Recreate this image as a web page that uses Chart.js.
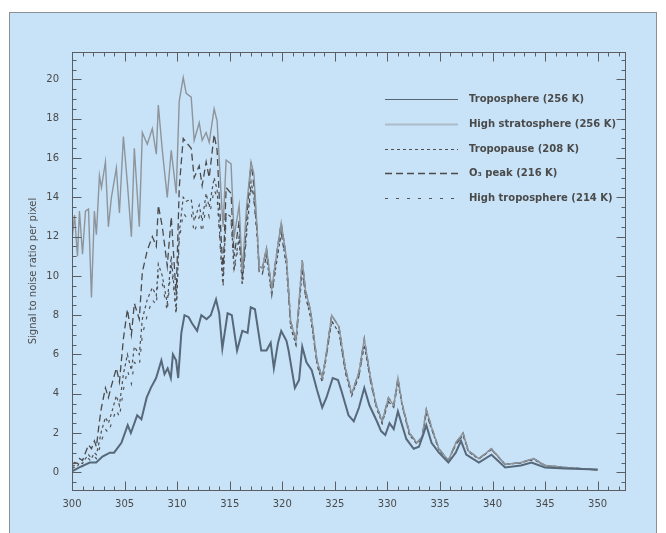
<!DOCTYPE html>
<html>
<head>
<meta charset="utf-8">
<title>Signal to noise ratio per pixel</title>
<script src="https://cdn.jsdelivr.net/npm/chart.js@4.4.1/dist/chart.umd.min.js"></script>
<style>
  html, body { margin: 0; padding: 0; background: #fff; }
  canvas { display: block; }
</style>
</head>
<body>
<canvas id="chart" width="666" height="533"></canvas>
<script>
// wavelength (nm) vs signal to noise ratio per pixel

// troposphere (256 K)
const tropoWl = [300.0, 300.7, 301.7, 302.3, 302.9, 303.6, 304.0, 304.7, 305.3, 305.6,
  306.2, 306.6, 307.1, 307.5, 308.0, 308.5, 308.8, 309.1, 309.4, 309.6,
  309.9, 310.1, 310.4, 310.7, 311.1, 311.4, 311.9, 312.3, 312.8, 313.2,
  313.7, 314.0, 314.3, 314.8, 315.2, 315.7, 316.2, 316.7, 317.0, 317.4,
  318.0, 318.5, 318.9, 319.2, 319.6, 319.9, 320.4, 320.6, 321.2, 321.6,
  321.9, 322.3, 322.8, 323.3, 323.8, 324.2, 324.8, 325.3, 325.6, 326.3,
  326.8, 327.3, 327.8, 328.3, 329.0, 329.4, 329.8, 330.2, 330.6, 331.0,
  331.4, 331.8, 332.5, 333.0, 333.4, 333.7, 334.2, 334.9, 335.8, 336.5,
  337.0, 337.5, 338.7, 339.9, 341.2, 342.7, 343.7, 345.0, 346.9, 350.0];
const tropoSnr = [0.05, 0.25, 0.5, 0.5, 0.8, 1.0, 1.0, 1.5, 2.4, 2.0,
  2.9, 2.7, 3.8, 4.3, 4.8, 5.7, 5.0, 5.3, 4.8, 6.0,
  5.7, 4.8, 7.1, 8.0, 7.9, 7.6, 7.2, 8.0, 7.8, 8.0,
  8.8, 8.1, 6.3, 8.1, 8.0, 6.2, 7.2, 7.1, 8.4, 8.3,
  6.2, 6.2, 6.6, 5.3, 6.6, 7.2, 6.7, 6.2, 4.3, 4.7,
  6.4, 5.6, 5.2, 4.2, 3.3, 3.8, 4.8, 4.7, 4.2, 2.9,
  2.6, 3.3, 4.3, 3.4, 2.6, 2.1, 1.9, 2.5, 2.2, 3.1,
  2.4, 1.7, 1.2, 1.3, 1.9, 2.4, 1.5, 1.0, 0.5, 1.0,
  1.6, 0.9, 0.5, 0.9, 0.25, 0.35, 0.5, 0.25, 0.2, 0.15];

// short wavelength part shared by the four upper curves
const headWl = [300.0, 300.24, 300.52, 300.71, 301.0, 301.28, 301.57, 301.85, 302.13, 302.32,
  302.61, 302.8, 303.18, 303.46, 303.75, 304.22, 304.51, 304.89, 305.27, 305.65,
  305.93, 306.4, 306.69, 307.16, 307.64, 308.02, 308.21, 308.59, 309.06, 309.44,
  309.91, 310.2, 310.58, 310.86, 311.34, 311.62, 312.1, 312.38, 312.76, 313.05,
  313.52, 313.8, 314.18, 314.37, 314.66, 315.13, 315.42, 315.9, 316.2, 316.6,
  317.03, 317.3, 317.6];
const stratHead = [11.8, 13.1, 11.0, 13.3, 11.1, 13.3, 13.4, 8.9, 13.3, 12.1,
  15.1, 14.5, 15.8, 12.5, 14.0, 15.5, 13.2, 17.1, 14.7, 12.0,
  16.5, 12.5, 17.3, 16.7, 17.5, 16.2, 18.7, 16.4, 14.0, 16.4,
  14.2, 18.9, 20.1, 19.3, 19.1, 16.9, 17.8, 16.9, 17.3, 16.8,
  18.5, 17.9, 14.2, 12.5, 15.9, 15.7, 12.0, 13.6, 10.2, 13.5,
  15.8, 15.2, 12.5];
const tropopauseHead = [0.3, 0.35, 0.3, 0.5, 0.45, 0.7, 0.9, 0.7, 1.0, 0.9,
  1.6, 2.1, 2.8, 2.5, 3.0, 3.9, 3.4, 5.0, 6.0, 5.2,
  6.4, 6.0, 7.8, 8.8, 9.4, 9.0, 10.6, 10.0, 8.6, 11.0,
  8.2, 12.2, 14.0, 13.8, 13.9, 12.8, 13.6, 12.8, 14.2, 13.5,
  15.0, 14.4, 11.0, 9.6, 13.2, 13.0, 10.4, 12.0, 9.6, 12.2,
  14.8, 14.0, 12.2];
const o3PeakHead = [0.4, 0.5, 0.45, 0.7, 0.6, 1.0, 1.4, 1.2, 1.6, 1.3,
  2.6, 3.3, 4.3, 3.8, 4.4, 5.3, 4.6, 6.8, 8.3, 7.0,
  8.6, 7.8, 10.2, 11.3, 12.0, 11.5, 13.6, 12.5, 10.5, 13.0,
  9.0, 14.5, 17.0, 16.8, 16.5, 15.0, 15.6, 14.6, 15.8, 15.0,
  17.2, 16.4, 12.0, 10.2, 14.5, 14.2, 11.0, 12.8, 9.9, 12.8,
  15.8, 14.6, 12.4];
const highTropoHead = [0.2, 0.25, 0.2, 0.35, 0.3, 0.5, 0.7, 0.55, 0.8, 0.7,
  1.2, 1.6, 2.2, 2.0, 2.5, 3.2, 2.8, 4.2, 5.2, 4.5,
  5.6, 5.4, 7.0, 8.0, 8.8, 8.5, 10.0, 9.6, 8.2, 10.6,
  8.0, 11.8, 13.2, 13.0, 13.2, 12.2, 13.0, 12.2, 13.6, 13.0,
  14.4, 14.0, 10.8, 9.4, 13.0, 12.8, 10.2, 11.8, 9.5, 12.0,
  14.6, 13.8, 12.0];

// long wavelength part, where the upper curves run together
const tailWl = [317.8, 318.1, 318.5, 319.0, 319.4, 319.9, 320.4, 320.8, 321.3, 321.9,
  322.2, 322.7, 323.3, 323.8, 324.2, 324.7, 325.4, 326.0, 326.6, 327.3,
  327.8, 328.4, 328.9, 329.5, 330.1, 330.6, 331.0, 331.4, 332.1, 332.8,
  333.3, 333.7, 334.2, 334.9, 335.8, 336.5, 337.2, 337.7, 338.7, 339.9,
  341.2, 342.7, 343.9, 345.0, 346.9, 350.0];
const tailUpper = [10.5, 10.4, 11.4, 9.3, 10.9, 12.7, 10.9, 7.7, 6.7, 10.8,
  9.3, 8.2, 5.7, 4.8, 6.1, 8.0, 7.4, 5.3, 4.0, 5.1,
  6.8, 4.8, 3.5, 2.6, 3.8, 3.4, 4.8, 3.5, 2.0, 1.5,
  1.8, 3.2, 2.3, 1.2, 0.6, 1.5, 2.0, 1.1, 0.7, 1.2,
  0.4, 0.5, 0.7, 0.35, 0.25, 0.12];
const tailLower = [10.2, 10.1, 11.0, 9.0, 10.5, 12.2, 10.5, 7.4, 6.5, 10.3,
  9.0, 7.9, 5.5, 4.6, 5.9, 7.7, 7.1, 5.1, 3.9, 4.9,
  6.5, 4.6, 3.4, 2.5, 3.6, 3.3, 4.6, 3.4, 1.9, 1.45,
  1.75, 3.0, 2.2, 1.15, 0.6, 1.4, 1.9, 1.05, 0.68, 1.15,
  0.4, 0.48, 0.66, 0.34, 0.24, 0.12];

const xTickValues = [300, 305, 310, 315, 320, 325, 330, 335, 340, 345, 350];
const yTickValues = [0, 2, 4, 6, 8, 10, 12, 14, 16, 18, 20];

const xMin = 300, xMax = 352.6;
const yMin = -0.9, yMax = 21.4;

function points(wl, snr) {
  return wl.map((w, i) => ({ x: w, y: snr[i] }));
}

const upperWl = headWl.concat(tailWl);

const datasets = [
  {
    label: 'Troposphere (256 K)',
    data: points(tropoWl, tropoSnr),
    borderColor: '#56687a',
    borderWidth: 2,
    legendColor: '#5b6570',
    legendWidth: 1
  },
  {
    label: 'High stratosphere (256 K)',
    data: points(upperWl, stratHead.concat(tailUpper)),
    borderColor: '#8e949b',
    borderWidth: 1.4,
    legendColor: '#adbccb',
    legendWidth: 2
  },
  {
    label: 'Tropopause (208 K)',
    data: points(upperWl, tropopauseHead.concat(tailLower)),
    borderColor: '#4f4f52',
    borderWidth: 1.2,
    borderDash: [3, 3]
  },
  {
    label: 'O\u2083 peak (216 K)',
    data: points(upperWl, o3PeakHead.concat(tailUpper)),
    borderColor: '#4a4a4d',
    borderWidth: 1.3,
    borderDash: [7, 4]
  },
  {
    label: 'High troposphere (214 K)',
    data: points(upperWl, highTropoHead.concat(tailLower)),
    borderColor: '#555558',
    borderWidth: 1.2,
    borderDash: [3, 8]
  }
];

const textColor = '#4a4a4a';
const tickFont = { family: 'DejaVu Sans', size: 10 };

// light blue panel behind the whole figure
const panel = {
  id: 'panel',
  beforeDraw(chart) {
    const ctx = chart.ctx;
    ctx.save();
    ctx.fillStyle = '#ffffff';
    ctx.fillRect(0, 0, chart.width, chart.height);
    ctx.fillStyle = '#c8e3f7';
    ctx.fillRect(9, 12, 648, 530);
    ctx.strokeStyle = '#8b9096';
    ctx.lineWidth = 1;
    ctx.strokeRect(9.5, 12.5, 647, 530);
    ctx.restore();
  }
};

// box round the plot with inward ticks on all four sides
const frame = {
  id: 'frame',
  afterDraw(chart) {
    const { ctx, chartArea: a, scales: { x, y } } = chart;
    const l = Math.round(a.left) + 0.5, r = Math.round(a.right) + 0.5;
    const t = Math.round(a.top) + 0.5, b = Math.round(a.bottom) + 0.5;
    ctx.save();
    ctx.strokeStyle = '#5a5d61';
    ctx.lineWidth = 1;
    ctx.strokeRect(l, t, r - l, b - t);
    ctx.beginPath();
    for (let v = 301; v <= 352; v++) {
      const px = Math.round(x.getPixelForValue(v)) + 0.5;
      const len = v % 5 === 0 ? 9 : 4;
      ctx.moveTo(px, b); ctx.lineTo(px, b - len);
      ctx.moveTo(px, t); ctx.lineTo(px, t + len);
    }
    for (let k = -1; k <= 42; k++) {
      const v = k / 2;
      const py = Math.round(y.getPixelForValue(v)) + 0.5;
      if (py <= t || py >= b) continue;
      const len = k % 4 === 0 ? 9 : 4;
      ctx.moveTo(l, py); ctx.lineTo(l + len, py);
      ctx.moveTo(r, py); ctx.lineTo(r - len, py);
    }
    ctx.stroke();
    ctx.restore();
  }
};

// key in the upper right of the plot
const key = {
  id: 'key',
  afterDraw(chart) {
    const ctx = chart.ctx;
    const a = chart.chartArea;
    ctx.save();
    ctx.font = 'bold 10px "DejaVu Sans"';
    ctx.fillStyle = textColor;
    ctx.textBaseline = 'middle';
    chart.data.datasets.forEach((ds, i) => {
      const yy = Math.round(a.top + 47 + i * 24.75) + 0.5;
      ctx.beginPath();
      ctx.setLineDash(ds.borderDash || []);
      ctx.strokeStyle = ds.legendColor || ds.borderColor;
      ctx.lineWidth = ds.legendWidth || ds.borderWidth;
      ctx.moveTo(385, yy);
      ctx.lineTo(458, yy);
      ctx.stroke();
      ctx.fillText(ds.label, 469, yy);
    });
    ctx.restore();
  }
};

new Chart(document.getElementById('chart'), {
  type: 'line',
  data: { datasets },
  options: {
    responsive: false,
    animation: false,
    events: [],
    layout: { padding: { left: 0, top: 52, right: 41, bottom: 0 } },
    elements: {
      point: { radius: 0 },
      line: { tension: 0, fill: false }
    },
    plugins: {
      legend: { display: false },
      tooltip: { enabled: false }
    },
    scales: {
      x: {
        type: 'linear',
        min: xMin,
        max: xMax,
        grid: { display: false, drawTicks: false },
        border: { display: false },
        afterBuildTicks: s => { s.ticks = xTickValues.map(v => ({ value: v })); },
        afterFit: s => { s.height = 43; },
        ticks: { padding: 8, font: tickFont, color: textColor, maxRotation: 0 }
      },
      y: {
        type: 'linear',
        min: yMin,
        max: yMax,
        grid: { display: false, drawTicks: false },
        border: { display: false },
        afterBuildTicks: s => { s.ticks = yTickValues.map(v => ({ value: v })); },
        afterFit: s => { s.width = 72; },
        ticks: { padding: 13, font: tickFont, color: textColor },
        title: {
          display: true,
          text: 'Signal to noise ratio per pixel',
          font: { family: 'DejaVu Sans', size: 10 },
          color: textColor,
          padding: { top: 27, bottom: 0 }
        }
      }
    }
  },
  plugins: [panel, frame, key]
});
</script>
</body>
</html>
